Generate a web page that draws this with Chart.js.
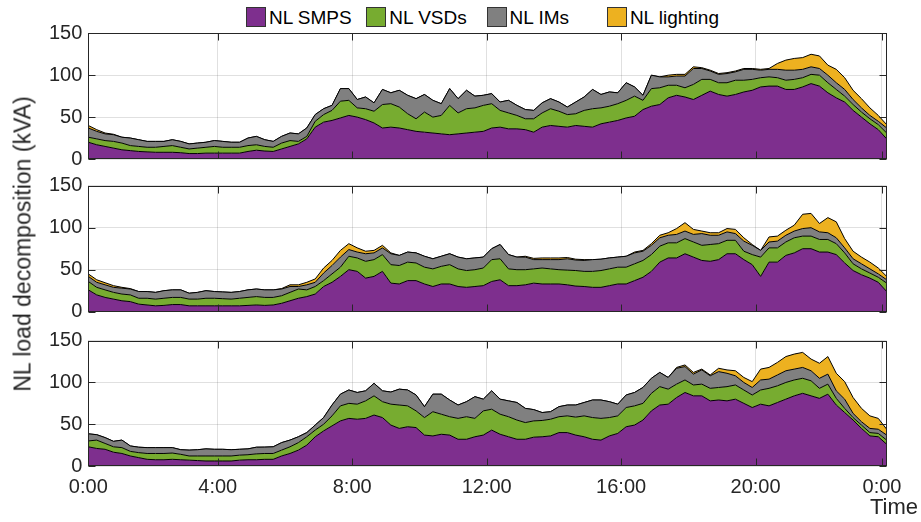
<!DOCTYPE html>
<html><head><meta charset="utf-8">
<script src="https://cdn.jsdelivr.net/npm/chart.js@4.4.0/dist/chart.umd.min.js"></script>
<style>
body{margin:0;width:921px;height:522px;background:#fff;position:relative;overflow:hidden;font-family:"Liberation Sans",Arial,Helvetica,sans-serif;color:#262626}
.panel{position:absolute;left:0;width:921px}
#legend{position:absolute;top:7px;left:246px;height:20px;display:flex}
.item{width:120.3px;display:flex;align-items:center;font-size:19px;line-height:1;color:#000}
.sw{width:20px;height:20px;border:1px solid #333;box-sizing:border-box;margin-right:3px;flex:none}
#ylab{position:absolute;left:23px;top:244px;transform:translate(-50%,-50%) rotate(-90deg);font-size:23px;line-height:1;white-space:nowrap}
#xlab{position:absolute;left:870px;top:496px;font-size:22px;line-height:1}
</style></head>
<body>
<div id="legend"></div>
<div class="panel" style="top:0;height:190px"><canvas id="c1" width="921" height="190"></canvas></div>
<div class="panel" style="top:150px;height:190px"><canvas id="c2" width="921" height="190"></canvas></div>
<div class="panel" style="top:310px;height:212px"><canvas id="c3" width="921" height="212"></canvas></div>
<div id="ylab">NL load decomposition (kVA)</div>
<div id="xlab">Time</div>
<script>
// ---- data ----
const seriesNames = ['NL SMPS','NL VSDs','NL IMs','NL lighting'];
const seriesColors = ['#7E2F8E','#77AC30','#808080','#EDB120'];
const tickHours = [0.15,4,8,12,16,20,23.76];
const tickLabels = ['0:00','4:00','8:00','12:00','16:00','20:00','0:00'];
const yTicks = [0,50,100,150];
const times = [0.15,0.4,0.65,0.9,1.15,1.4,1.65,1.9,2.15,2.4,
2.65,2.9,3.15,3.4,3.65,3.9,4.15,4.4,4.65,4.9,
5.15,5.4,5.65,5.9,6.15,6.4,6.65,6.9,7.15,7.4,
7.65,7.9,8.15,8.4,8.65,8.9,9.15,9.4,9.65,9.9,
10.15,10.4,10.65,10.9,11.15,11.4,11.65,11.9,12.15,12.4,
12.65,12.9,13.15,13.4,13.65,13.9,14.15,14.4,14.65,14.9,
15.15,15.4,15.65,15.9,16.15,16.4,16.65,16.9,17.15,17.4,
17.65,17.9,18.15,18.4,18.65,18.9,19.15,19.4,19.65,19.9,
20.15,20.4,20.65,20.9,21.15,21.4,21.65,21.9,22.15,22.4,
22.65,22.9,23.15,23.4,23.65,23.9];

// Panel 1
const p1SMPS = [20,17,15,13,11,10,9,8.5,8,8, 8,7.5,6.5,6.5,7,7,7,7,7,9, 10.5,9.5,9,12,15,18,24,38,44,46,
49,52,50,47,43,37,38,37,35,33, 32,31,30,29,30,31,32,33,37,38, 36,36,35,32,38,40,39,38,40,39,
38,42,44,46,49,51,59,63,65,73, 76,74,71,76,81,77,75,77,80,82, 86,87,87,83,83,86,90,87,79,73, 68,58,50,42,35,24];
const p1VSD = [6,7,7,8,8,6,6,5.5,6,7, 8,6.5,5.5,6.5,7,8,7,7,7,7, 6.5,5.5,5,7,7,3,3,7,9,12,
20,18,11,13,14,28,28,25,19,15, 24,19,22,35,25,29,29,31,29,20, 19,16,13,16,17,20,18,15,14,19,
22,19,19,20,21,24,11,21,20,15, 12,11,18,19,14,14,16,17,14,13, 11,11,10,11,12,11,11,13,12,10, 7,7,6,6,6,7];
const p1IM = [11,9,8,8,7,9,8,7,7,6, 7,7,6,6,6,7,7,6,6,9, 10,8,7,8,9,9,10,8,7,6,
15,14,10,14,10,18,13,20,22,24, 21,20,14,20,17,22,14,12,12,10, 15,12,11,10,12,12,11,9,14,16,
23,16,17,13,21,11,6,16,13,10, 11,14,19,13,10,10,11,10,13,12, 9,9,10,12,11,10,9,8,9,8, 8,6,5,4,4,6];
const p1LIGHT = [3,2,1,0.5,0,0,0,0,0,0, 0,0,0,0,0,0,0,0,0,0, 0,0,0,0,0,0,0,0,0,0,
0,0,0,0,0,0,0,0,0,0, 0,0,0,0,0,0,0,0,0,0, 0,0,0,0,0,0,0,0,0,0,
0,0,0,0,0,0,0,0,0,2, 2,2,2,1,1,1,1,1,1,1, 1,1,7,12,14,14,15,15,12,16, 14,11,11,9,7,4];

// Panel 2
const p2SMPS = [26,20,17,15,13,12,9,8,7,7.5, 8.5,8.5,7,7,7,7,7,7,7,7.5, 8,7.5,8,10,13,16,18,21,30,35,
42,50,48,40,42,48,34,33,37,37, 33,30,33,33,30,29,30,31,36,38, 31,31,32,34,33,33,33,32,30.5,30,
29,29,31,33,33,37,41,48,59,64, 64,69,65,61,60,62,69,69,62,56, 42,59,59,67,70,75,75,71,71,68, 58,49,44,40,35,24];
const p2VSD = [10,9,9,8,8,8,7,8,8,8.5, 8.5,8.5,8,8,9,9,8.5,8,9,9.5, 10,9.5,9,9,10,11,8,9,7,10,
11,16,16,20,20,20,22,22,22,21, 20,21,21,23,21,20,20,21,26,25, 20,19,18,17,19,18,17,17.5,18.5,18,
19,20,20,20,20,20,20,20,19,18, 18,18,18,18,20,19,16,16,10,12, 23,17,17,16,18,15,15,15,15,13, 12,8,7,6,6,10];
const p2IM = [6,6,6,6,7,7,8,8,8,9, 9,9,7,8,9,8,8,8,8,9, 9,9,9,8,7,3,6,5,9,10,
12,8,7,9,8,8,13,12,12,12, 13,12,12,13,14,14,14,13,13,17, 17,15,15,11,10,11,12,13.5,12.5,13,
14,13.5,13,12,13,13,11,11,10,9, 10,9,9,14,11,10,10,8,12,11, 8,7,8,8,8,9,10,9,8,7, 6,6,6,5,4,4];
const p2LIGHT = [3,3,2.5,2,1,0.5,0,0,0,0, 0,0,0,0,0,0,0,0,0,0, 0,0,0,0.5,2,2,3,4,6,6,
8,7,5,3,3,3,1,0,0,0, 0,0,0,0,0,0,0,0,0,0, 0,0,1,1.5,2,2,2,1.5,1,1,
0,0,0,0,0,1,1,2,3,3, 7,10,6,3,3,3,4,5,4,1, 0,6,6,6,7,17,17,10,18,19, 11,9,8,8,7,4];

// Panel 3
const p3SMPS = [23,21,20,16.5,15,12,10,8,7.5,7.5, 8,7.5,7,6.5,6,6,6,6,7,7.5, 7.5,8,8,12,15,19,25,35,42,48,
54,57,56,57,61,58,49,45,47,46, 37,36,38,37,32,32,35,37,43,38, 35,32,32,34.5,35,36,40,40,37,35,
32,31,36,39,47,49,55,66,73,74, 82,88,84,84,78,79,78,80,75,70, 74,72,76,80,84,87,84,81,86,73, 64,55,45,36,35,26];
const p3VSD = [7,10,7,6.5,7,5.5,6,7,7.5,7.5, 7.5,6.5,5,5.5,6,6,6,6,6,6, 7,7,7,7,8,9,10,8,8,12,
18,18,18,21,23,19,25,28,25,20, 21,29,24,22,25,27,22,29,25,24, 24,23,20,19.5,19.5,20,19,20,21.5,25,
26,26,22,21,23,23,20,21,22,18, 16,15,13,14,15,15,17,17,16,15, 17,21,20,20,19,18,18,12,12,8, 5,3,4,4,4,5];
const p3IM = [8.5,6.5,7,6.5,9,6.5,6.5,7,7,7, 6.5,5.5,7,7.5,8.5,8,8,7.5,7,7, 8,7.6,8,9,8,7,5,6,8,13,
14,16,14,12,15,13,14.5,19,19,19, 13,21,24,20,16,18,26,14,22,18, 19,21,17,13.5,9.5,9,12,13,14.5,16,
21,22,19,14,15,16,19,18,17,14, 19,16,13,17,15,19,16,11,9,9, 12,11,13,14,13,13,12,12,12,9, 11,5,4,5,5,6];
const p3LIGHT = [0,0,0,0,0,0,0,0,0,0, 0,0,0,0,0,0,0,0,0,0, 0,0,0,0,0,0,0,0,0,0,
0,0,0,0,0,0,0,0,0,0, 0,0,0,0,0,0,0,0,0,0, 0,0,0,0,0,0,0,0,0,0,
0,0,0,0,0,0,0,0,0,0, 1,2,2,1,1,4,4,6,6,7, 13,14,15,17,18,18,14,18,21,21, 21,19,16,15,13,7];

// ---- rendering ----
const FONT = '"Liberation Sans", Arial, Helvetica, sans-serif';
Chart.defaults.font.family = FONT;
const AXIS = '#262626';
const GRID = 'rgba(38,38,38,0.14)';

// HTML legend
const leg = document.getElementById('legend');
seriesNames.forEach((n,i)=>{
  const it = document.createElement('div'); it.className='item';
  const sw = document.createElement('span'); sw.className='sw'; sw.style.background=seriesColors[i];
  const tx = document.createElement('span'); tx.textContent=n;
  it.appendChild(sw); it.appendChild(tx); leg.appendChild(it);
});

const boxPlugin = {
  id:'boxTicks',
  afterDatasetsDraw(chart){
    const {ctx, chartArea:a, scales:{x,y}} = chart;
    ctx.save();
    ctx.strokeStyle = AXIS; ctx.lineWidth = 1;
    const L=Math.round(a.left)+0.5, R=Math.round(a.right)-0.5, T=Math.round(a.top)+0.5, B=Math.round(a.bottom)-0.5;
    ctx.strokeRect(L, T, R-L, B-T);
    const tl = 7;
    ctx.beginPath();
    tickHours.forEach(h=>{
      const px = Math.round(x.getPixelForValue(h))+0.5;
      ctx.moveTo(px,B); ctx.lineTo(px,B-tl);
      ctx.moveTo(px,T); ctx.lineTo(px,T+tl);
    });
    yTicks.forEach(v=>{
      const py = Math.round(y.getPixelForValue(v))+0.5;
      ctx.moveTo(L,py); ctx.lineTo(L+tl,py);
      ctx.moveTo(R,py); ctx.lineTo(R-tl,py);
    });
    ctx.stroke();
    ctx.restore();
  }
};

function makeDs(i, arr){
  return {
    label: seriesNames[i],
    data: times.map((t,k)=>({x:t, y:arr[k]})),
    backgroundColor: seriesColors[i],
    borderColor: '#000',
    borderWidth: 1,
    pointRadius: 0,
    tension: 0,
    fill: i===0 ? 'origin' : '-1'
  };
}

function makePanel(id, padTop, xHeight, showX, S, V, I, Lt){
  return new Chart(document.getElementById(id), {
    type:'line',
    data:{datasets:[makeDs(0,S), makeDs(1,V), makeDs(2,I), makeDs(3,Lt)]},
    options:{
      responsive:false, animation:false, maintainAspectRatio:false,
      layout:{padding:{top:padTop, left:0, right:34.3, bottom:0}},
      plugins:{legend:{display:false}, tooltip:{enabled:false}},
      scales:{
        x:{type:'linear', min:0.15, max:23.9,
          afterBuildTicks:s=>{ s.ticks = tickHours.map(v=>({value:v})); },
          afterFit:s=>{ s.height = xHeight; },
          ticks:{display:showX, autoSkip:false, maxRotation:0, padding:9,
                 color:AXIS, font:{size:20, family:FONT},
                 callback:(v,i)=>tickLabels[i]},
          grid:{color:GRID, drawTicks:false, lineWidth:1},
          border:{display:false}
        },
        y:{type:'linear', stacked:true, min:0, max:150,
          afterBuildTicks:s=>{ s.ticks = yTicks.map(v=>({value:v})); },
          afterFit:s=>{ s.width = 88.3; },
          ticks:{padding:6, color:AXIS, font:{size:20, family:FONT}, callback:v=>String(v)},
          grid:{color:GRID, drawTicks:false, lineWidth:1},
          border:{display:false}
        }
      }
    },
    plugins:[boxPlugin]
  });
}

makePanel('c1', 33.3, 31, false, p1SMPS, p1VSD, p1IM, p1LIGHT);
makePanel('c2', 35.7, 28.3, false, p2SMPS, p2VSD, p2IM, p2LIGHT);
makePanel('c3', 30.7, 56, true, p3SMPS, p3VSD, p3IM, p3LIGHT);
</script>
</body></html>
